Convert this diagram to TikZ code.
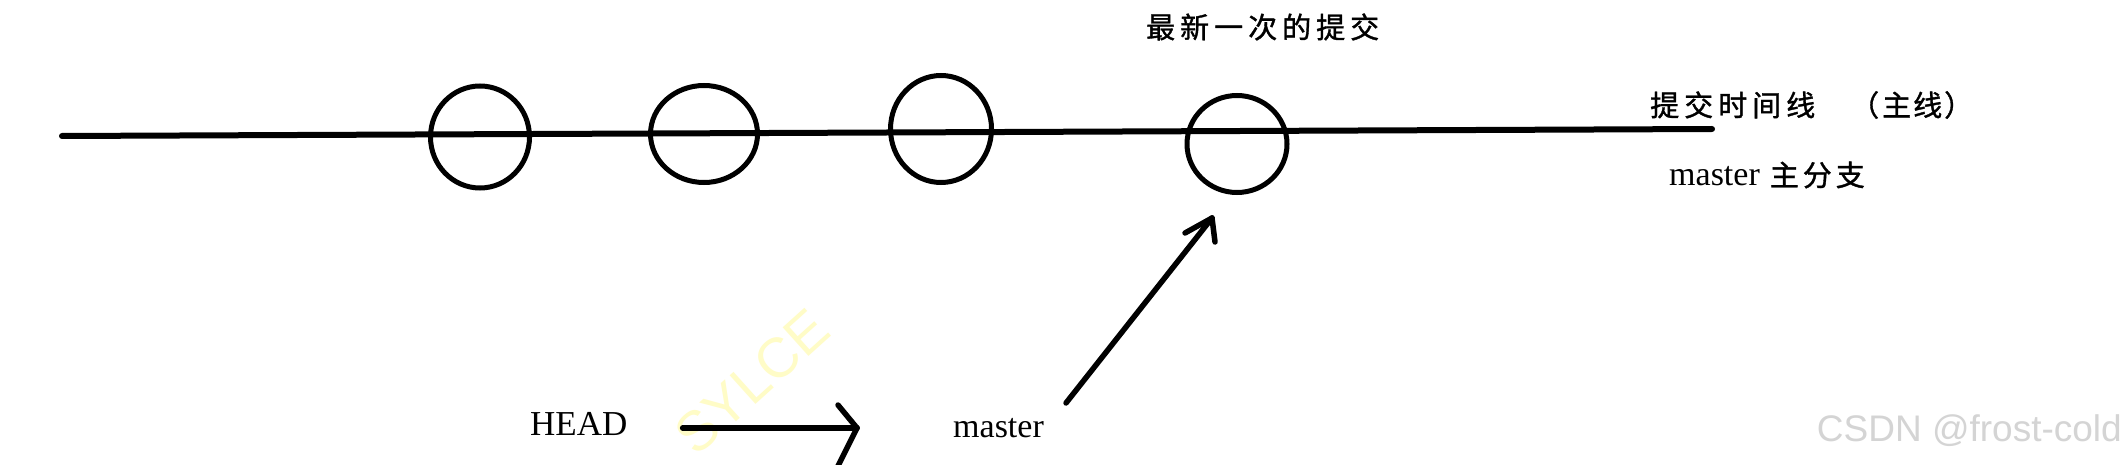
\documentclass[tikz,border=0pt]{standalone}
\usepackage{fontspec}
\setmainfont{Liberation Serif}
\newfontfamily\cjk[FakeBold=1.2]{Noto Sans CJK SC}
\newfontfamily\wmfont{Liberation Sans}
\usetikzlibrary{shapes.geometric}
\newcommand\ck{\kern5pt}
\begin{document}
\begin{tikzpicture}[x=1pt,y=-1pt,
  commit/.style={ellipse,draw,line width=5pt,inner sep=0pt},
  mainline/.style={line width=6pt,line cap=round},
  conn/.style={line width=5.5pt,line cap=round},
  lbl/.style={inner sep=0pt,font=\fontsize{34}{38}\selectfont},
  cjklbl/.style={inner sep=0pt,font=\fontsize{29}{33}\selectfont\cjk}]
\useasboundingbox[fill=white] (0,0) rectangle (2126,465);
% faint watermark
\node[rotate=42,text=yellow!22,font=\fontsize{56}{60}\selectfont\wmfont] (wm1) at (752,382) {SYLCE};
% main time line
\coordinate (L) at (62,136);
\coordinate (R) at (1712,129);
\draw[mainline] (L) -- (R);
% commits
\node[commit,minimum width=99pt,minimum height=102pt] (c1) at (480,137) {};
\node[commit,minimum width=107pt,minimum height=97pt] (c2) at (704,134) {};
\node[commit,minimum width=101pt,minimum height=107pt] (c3) at (941,129) {};
\node[commit,minimum width=100pt,minimum height=97pt] (c4) at (1237,144) {};
% labels
\node[cjklbl,anchor=west] (latest) at (1146,27) {最\ck 新\ck 一\ck 次\ck 的\ck 提\ck 交};
\node[cjklbl,anchor=west] (timeline) at (1650,105) {提\ck 交\ck 时\ck 间\ck 线\hspace{35pt}（\kern3pt 主\kern2pt 线\kern2pt ）};
\node[anchor=west,inner sep=0pt] (mainbr) at (1669,175) {{\fontsize{34}{38}\selectfont master}\hspace{10pt}{\fontsize{29}{33}\selectfont\cjk 主\kern4pt 分\kern4pt 支}};
\node[lbl,anchor=west,font=\fontsize{35}{38}\selectfont] (head) at (530,424) {HEAD};
\node[lbl,anchor=west] (master) at (953,428) {master};
% HEAD -> master
\coordinate (htip) at (857,428);
\draw[conn] (head.east) ++(55,4) -- (htip);
\draw[conn] (htip) -- ++(-19,-23);
\draw[conn] (htip) -- ++(-20,40);
% master -> latest commit
\coordinate (mtail) at (1066,403);
\coordinate (mtip) at (1212,218);
\draw[conn] (mtail) -- (mtip);
\draw[conn] (mtip) -- ++(-27,15);
\draw[conn] (mtip) -- ++(3,24);
% CSDN watermark
\node[anchor=east,inner sep=0pt,text=black!17,font=\fontsize{37}{40}\selectfont\wmfont] (csdn) at (2122,431) {CSDN @frost-cold};
\end{tikzpicture}
\end{document}
